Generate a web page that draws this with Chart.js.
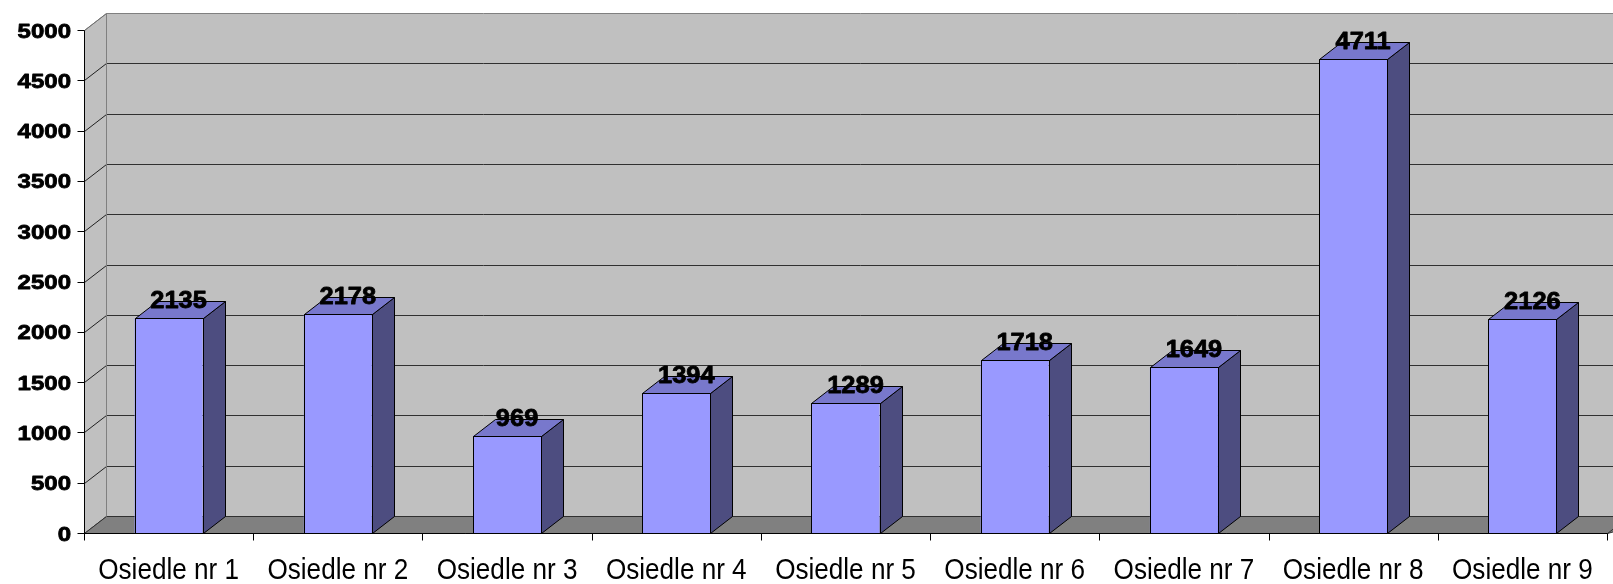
<!DOCTYPE html>
<html>
<head>
<meta charset="utf-8">
<script src="https://cdn.jsdelivr.net/npm/chart.js@4/dist/chart.umd.min.js"></script>
<style>
  html, body { margin: 0; padding: 0; background: #ffffff; }
  canvas { display: block; }
</style>
</head>
<body>
<canvas id="c" width="1613" height="584"></canvas>
<script>
// ---- data ----
const categories = ['Osiedle nr 1', 'Osiedle nr 2', 'Osiedle nr 3', 'Osiedle nr 4', 'Osiedle nr 5',
                    'Osiedle nr 6', 'Osiedle nr 7', 'Osiedle nr 8', 'Osiedle nr 9'];
const values = [2135, 2178, 969, 1394, 1289, 1718, 1649, 4711, 2126];
const yTickValues = [0, 500, 1000, 1500, 2000, 2500, 3000, 3500, 4000, 4500, 5000];
const yTickLabels = ['0', '500', '1000', '1500', '2000', '2500', '3000', '3500', '4000', '4500', '5000'];

// ---- style ----
const DX = 22, DY = 17;
const FONT = '"Liberation Sans", Arial, sans-serif';

function poly(ctx, pts, fill, stroke) {
  ctx.beginPath();
  ctx.moveTo(pts[0][0], pts[0][1]);
  for (let i = 1; i < pts.length; i++) ctx.lineTo(pts[i][0], pts[i][1]);
  ctx.closePath();
  if (fill) { ctx.fillStyle = fill; ctx.fill(); }
  if (stroke) { ctx.strokeStyle = stroke; ctx.lineWidth = 1; ctx.stroke(); }
}
function line(ctx, x1, y1, x2, y2, color) {
  ctx.beginPath();
  ctx.moveTo(x1, y1); ctx.lineTo(x2, y2);
  ctx.strokeStyle = color; ctx.lineWidth = 1; ctx.stroke();
}
function stretchedText(ctx, txt, x, y, font, sx, align, weight) {
  ctx.save();
  ctx.font = font;
  ctx.fillStyle = '#000';
  ctx.textBaseline = 'alphabetic';
  ctx.textAlign = align;
  ctx.translate(x, y);
  ctx.scale(sx, 1);
  ctx.fillText(txt, 0, 0);
  if (weight) {
    ctx.strokeStyle = '#000';
    ctx.lineWidth = weight;
    ctx.lineJoin = 'round';
    ctx.strokeText(txt, 0, 0);
  }
  ctx.restore();
}

const walls3d = {
  id: 'walls3d',
  beforeDatasetsDraw(chart) {
    const { ctx, chartArea: { left, right, top, bottom }, scales: { y } } = chart;
    ctx.save();
    ctx.translate(0.5, 0.5);
    // side wall
    poly(ctx, [[left, top], [left + DX, top - DY], [left + DX, bottom - DY], [left, bottom]], '#C0C0C0', null);
    // back wall
    poly(ctx, [[left + DX, top - DY], [right + DX + 40, top - DY], [right + DX + 40, bottom - DY], [left + DX, bottom - DY]], '#C0C0C0', '#808080');
    line(ctx, left, top, left + DX, top - DY, '#808080');
    // gridlines
    yTickValues.forEach(v => {
      const py = Math.round(y.getPixelForValue(v));
      if (v === 5000) {
        line(ctx, left, py, left + DX, py - DY, '#707070');
        return;
      }
      line(ctx, left, py, left + DX, py - DY, '#202020');
      line(ctx, left + DX, py - DY, right + DX + 40, py - DY, '#303030');
    });
    // floor
    poly(ctx, [[left, bottom], [left + DX, bottom - DY], [right + DX + 40, bottom - DY], [right, bottom]], '#808080', '#303030');
    line(ctx, left + DX, top - DY, left + DX, bottom - DY, '#808080');
    line(ctx, right, bottom, right + DX, bottom - DY, '#303030');
    ctx.restore();
  },
  afterDatasetsDraw(chart) {
    const { ctx, chartArea: { left, right, top, bottom }, scales: { x, y } } = chart;
    const meta = chart.getDatasetMeta(0);
    ctx.save();
    ctx.translate(0.5, 0.5);
    meta.data.forEach((bar) => {
      const p = bar.getProps(['x', 'y', 'base', 'width'], true);
      const L = Math.round(p.x - p.width / 2), R = Math.round(p.x + p.width / 2);
      const T = Math.round(p.y), B = Math.round(p.base);
      poly(ctx, [[R, B], [R, T], [R + DX, T - DY], [R + DX, B - DY]], '#4D4D80', '#000');
      poly(ctx, [[L, T], [R, T], [R + DX, T - DY], [L + DX, T - DY]], '#7878CC', '#000');
      poly(ctx, [[L, T], [R, T], [R, B], [L, B]], null, '#000');
    });
    // axes
    line(ctx, left, top, left, bottom, '#000');
    line(ctx, left, bottom, right, bottom, '#000');
    yTickValues.forEach(v => {
      const py = Math.round(y.getPixelForValue(v));
      line(ctx, left - 7, py, left, py, '#000');
    });
    for (let i = 0; i <= categories.length; i++) {
      const px = Math.round(left + (right - left) * i / categories.length);
      line(ctx, px, bottom, px, bottom + 7, '#000');
    }
    ctx.restore();

    // data labels
    meta.data.forEach((bar, i) => {
      const p = bar.getProps(['x', 'y'], true);
      stretchedText(ctx, String(values[i]), p.x + 10, p.y - 10, 'bold 24px ' + FONT, 1.06, 'center', 0.8);
    });
    // y tick labels
    yTickValues.forEach((v, i) => {
      const py = y.getPixelForValue(v);
      stretchedText(ctx, yTickLabels[i], left - 13, py + 7.5, 'bold 20px ' + FONT, 1.2, 'right', 0.8);
    });
    // x labels
    categories.forEach((c, i) => {
      const px = x.getPixelForValue(i);
      stretchedText(ctx, c, px, 579, '29px ' + FONT, 0.9, 'center', 0);
    });
  }
};

new Chart(document.getElementById('c'), {
  type: 'bar',
  data: {
    labels: categories,
    datasets: [{
      data: values,
      backgroundColor: '#9999FF',
      borderColor: '#000000',
      borderWidth: 0,
      borderSkipped: false,
      barPercentage: 0.402,
      categoryPercentage: 1.0
    }]
  },
  options: {
    responsive: false,
    animation: false,
    layout: { padding: { top: 30, right: 6, left: 0, bottom: 0 } },
    plugins: { legend: { display: false }, tooltip: { enabled: false } },
    scales: {
      x: {
        grid: { display: false },
        border: { display: false },
        ticks: { display: false },
        afterFit(scale) { scale.height = 51; }
      },
      y: {
        min: 0, max: 5000,
        grid: { display: false },
        border: { display: false },
        ticks: { display: false, stepSize: 500 },
        afterFit(scale) { scale.width = 84; }
      }
    }
  },
  plugins: [walls3d]
});
</script>
</body>
</html>
